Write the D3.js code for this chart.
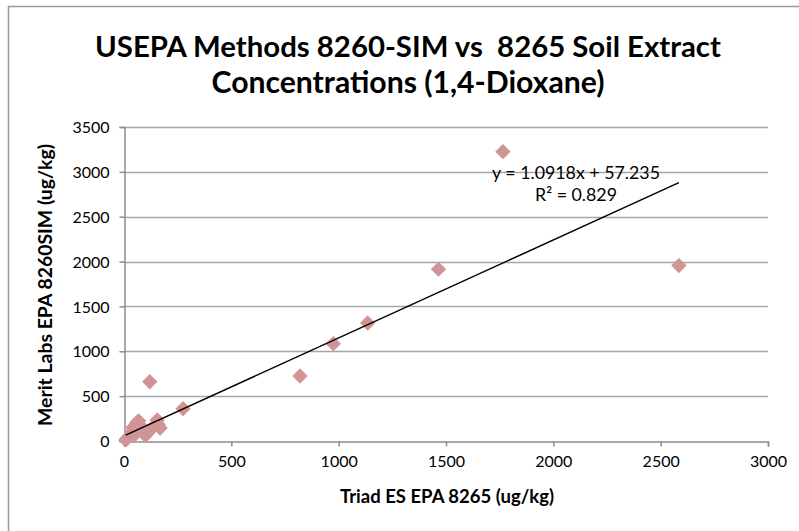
<!DOCTYPE html>
<html>
<head>
<meta charset="utf-8">
<script src="https://cdn.jsdelivr.net/npm/d3@7"></script>
<style>
  html, body { margin: 0; padding: 0; background: #fff; }
  svg { display: block; }
  text { font-family: Lato, "Open Sans", sans-serif; fill: #000; white-space: pre; }
</style>
</head>
<body>
<svg id="chart" width="799" height="531"></svg>
<script>
// Triad ES EPA 8265 results (x) vs Merit Labs EPA 8260SIM results (y), ug/kg
const triadValues = [8, 15, 25, 35, 42, 50, 60, 68, 75, 85, 100, 110, 122, 140, 155, 160, 168, 120, 275, 820, 975, 1135, 1465, 1765, 2585];
const meritValues = [10, 30, 55, 95, 150, 70, 205, 225, 120, 150, 60, 95, 120, 165, 235, 180, 145, 660, 360, 725, 1085, 1315, 1915, 3225, 1955];

// Linear trendline coefficients and fit statistic
const slope = 1.0918;
const intercept = 57.235;
const rSquared = 0.829;

const xTicks = [0, 500, 1000, 1500, 2000, 2500, 3000];
const yTicks = [0, 500, 1000, 1500, 2000, 2500, 3000, 3500];

const titleLines = ["USEPA Methods 8260-SIM vs  8265 Soil Extract", "Concentrations (1,4-Dioxane)"];
const xTitle = "Triad ES EPA 8265 (ug/kg)";
const yTitle = "Merit Labs EPA 8260SIM (ug/kg)";

const svg = d3.select("#chart");

// outer chart frame
svg.append("rect")
  .attr("x", 8.5).attr("y", 6.5)
  .attr("width", 820).attr("height", 560)
  .attr("fill", "#fff")
  .attr("stroke", "#9a9a9a")
  .attr("stroke-width", 1.5);

const plot = { left: 124, right: 768, top: 127, bottom: 441 };

const x = d3.scaleLinear().domain([0, 3000]).range([plot.left, plot.right]);
const y = d3.scaleLinear().domain([0, 3500]).range([plot.bottom, plot.top]);

// shrink/grow a text's font size so it spans a given width
function fitWidth(sel, width) {
  const node = sel.node();
  const fs = parseFloat(sel.attr("font-size"));
  const w = node.getComputedTextLength();
  sel.attr("font-size", (fs * width / w).toFixed(2));
}

// horizontal gridlines
svg.append("g")
  .selectAll("line")
  .data(yTicks.filter(d => d > 0))
  .join("line")
  .attr("x1", plot.left).attr("x2", plot.right)
  .attr("y1", d => Math.round(y(d)) + 0.5).attr("y2", d => Math.round(y(d)) + 0.5)
  .attr("stroke", "#a6a6a6")
  .attr("stroke-width", 1.5);

// axes
const xAxis = svg.append("g")
  .attr("transform", `translate(0,${plot.bottom + 0.5})`)
  .call(d3.axisBottom(x).tickValues(xTicks).tickSize(5).tickPadding(7).tickFormat(d3.format("d")));
const yAxis = svg.append("g")
  .attr("transform", `translate(${plot.left + 0.5},0)`)
  .call(d3.axisLeft(y).tickValues(yTicks).tickSize(5).tickPadding(10).tickFormat(d3.format("d")));

[xAxis, yAxis].forEach(g => {
  g.select(".domain").attr("stroke", "#8c8c8c").attr("stroke-width", 1.5);
  g.selectAll(".tick line").attr("stroke", "#8c8c8c").attr("stroke-width", 1.5);
  g.selectAll(".tick text")
    .attr("font-family", "Lato, sans-serif")
    .attr("font-size", 16)
    .attr("fill", "#111");
});
yAxis.selectAll(".tick text").attr("dy", "0.35em");
xAxis.selectAll(".tick text").attr("dy", "0.85em");

// data points as diamonds
const diamond = d3.symbol().type(d3.symbolDiamond2).size(150);
svg.append("g")
  .selectAll("path")
  .data(triadValues.map((v, i) => [v, meritValues[i]]))
  .join("path")
  .attr("transform", d => `translate(${x(d[0])},${y(d[1])})`)
  .attr("d", diamond)
  .attr("fill", "#d19494");

// trendline across the range of x values
const xMin = d3.min(triadValues), xMax = d3.max(triadValues);
svg.append("line")
  .attr("x1", x(xMin)).attr("y1", y(slope * xMin + intercept))
  .attr("x2", x(xMax)).attr("y2", y(slope * xMax + intercept))
  .attr("stroke", "#000")
  .attr("stroke-width", 1.5);

// trendline label
const eq = svg.append("text")
  .attr("x", 576).attr("y", 179)
  .attr("text-anchor", "middle")
  .attr("font-size", 16)
  .text(`y = ${slope}x + ${intercept}`);
fitWidth(eq, 168);
svg.append("text")
  .attr("x", 576).attr("y", 201)
  .attr("text-anchor", "middle")
  .attr("font-size", eq.attr("font-size"))
  .text(`R² = ${rSquared}`);

// title
titleLines.forEach((t, i) => {
  const tt = svg.append("text")
    .attr("x", 408).attr("y", 57 + i * 36)
    .attr("text-anchor", "middle")
    .attr("font-weight", "bold")
    .attr("font-size", 28)
    .text(t);
  if (i === 0) fitWidth(tt, 626);
  else fitWidth(tt, 393);
});

// axis titles
const xt = svg.append("text")
  .attr("x", 447).attr("y", 503)
  .attr("text-anchor", "middle")
  .attr("font-weight", "bold")
  .attr("font-size", 17)
  .text(xTitle);
fitWidth(xt, 214);

const yt = svg.append("text")
  .attr("transform", "translate(52,285) rotate(-90)")
  .attr("text-anchor", "middle")
  .attr("font-weight", "bold")
  .attr("font-size", 17)
  .text(yTitle);
fitWidth(yt, 282);
</script>
</body>
</html>
